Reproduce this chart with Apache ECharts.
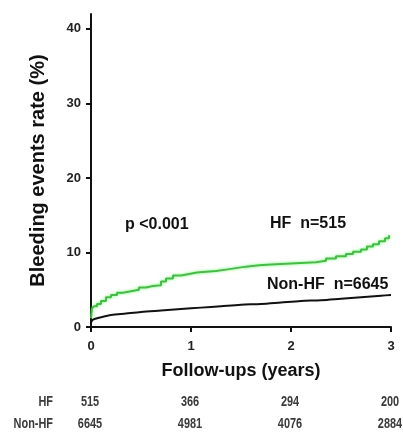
<!DOCTYPE html>
<html><head><meta charset="utf-8">
<script src="https://cdn.jsdelivr.net/npm/echarts@6/dist/echarts.min.js"></script>
<style>html,body{margin:0;padding:0;background:#fff}#c{width:403px;height:436px}</style>
</head><body><div id="c"></div>
<script>
var hfTime = [0, 0.01, 0.03, 0.06, 0.10, 0.15, 0.20, 0.26, 0.32, 0.40, 0.48, 0.55, 0.62, 0.70, 0.75, 0.82, 0.90, 0.98, 1.06, 1.15, 1.25, 1.35, 1.45, 1.55, 1.68, 1.80, 1.95, 2.10, 2.25, 2.35, 2.45, 2.55, 2.62, 2.70, 2.76, 2.82, 2.88, 2.94, 2.98];
var hfRate = [1.2, 2.5, 2.8, 3.1, 3.5, 4.0, 4.3, 4.6, 4.8, 5.0, 5.3, 5.5, 5.6, 6.1, 6.5, 6.9, 7.1, 7.3, 7.4, 7.5, 7.7, 7.9, 8.1, 8.3, 8.4, 8.5, 8.6, 8.7, 8.9, 9.2, 9.5, 9.8, 10.1, 10.4, 10.8, 11.1, 11.5, 11.9, 12.3];
var nonHfTime = [0, 0.02, 0.1, 0.2, 0.35, 0.5, 0.7, 0.9, 1.1, 1.3, 1.5, 1.7, 1.9, 2.1, 2.3, 2.5, 2.7, 2.9, 3.0];
var nonHfRate = [0.6, 1.0, 1.3, 1.6, 1.8, 2.0, 2.2, 2.4, 2.6, 2.8, 3.0, 3.1, 3.3, 3.5, 3.6, 3.8, 4.0, 4.2, 4.3];
var xTicks = [0, 1, 2, 3];
var yTicks = [0, 10, 20, 30, 40];
var riskRows = ['HF', 'Non-HF'];
var hfAtRisk = [515, 366, 294, 200];
var nonHfAtRisk = [6645, 4981, 4076, 2884];

function zip(a, b) { return a.map(function (t, i) { return [t, b[i]]; }); }
var FONT = 'Arial, "Liberation Sans", sans-serif';
var chart = echarts.init(document.getElementById('c'));

chart.setOption({
  animation: false,
  grid: { left: 91, right: 12, top: 14, bottom: 109, containLabel: false, outerBoundsMode: 'none' },
  xAxis: {
    type: 'value', min: 0, max: 3, interval: 1,
    name: 'Follow-ups (years)', nameLocation: 'middle', nameGap: 35,
    nameTextStyle: { fontSize: 18, fontWeight: 'bold', color: '#111', fontFamily: FONT },
    axisLine: { lineStyle: { color: '#111', width: 2 } },
    axisTick: { length: 5, lineStyle: { color: '#111', width: 2 } },
    axisLabel: { color: '#222', fontSize: 13, fontWeight: 'bold', fontFamily: FONT, margin: 13 },
    splitLine: { show: false }
  },
  yAxis: {
    type: 'value', min: 0, max: 42,
    name: 'Bleeding events rate (%)', nameLocation: 'middle', nameGap: 43, nameRotate: 90,
    nameTextStyle: { fontSize: 20, fontWeight: 'bold', color: '#111', fontFamily: FONT },
    axisLine: { show: true, lineStyle: { color: '#111', width: 2 } },
    axisTick: { show: true, length: 5, customValues: yTicks, lineStyle: { color: '#111', width: 2 } },
    axisLabel: { customValues: yTicks, color: '#222', fontSize: 13, fontWeight: 'bold', fontFamily: FONT, margin: 10 },
    splitLine: { show: false }
  },
  series: [{
    name: 'HF', type: 'line', step: 'end', showSymbol: false, data: zip(hfTime, hfRate),
    lineStyle: { color: '#2fcc2f', width: 2, shadowColor: 'rgba(60,220,60,0.5)', shadowBlur: 3 }
  }, {
    name: 'Non-HF', type: 'line', smooth: 0.3, showSymbol: false, data: zip(nonHfTime, nonHfRate),
    lineStyle: { color: '#111', width: 2 }
  }]
});

function txt(o) {
  return Object.assign({ fontFamily: FONT }, o);
}
var graphics = [
  { type: 'text', left: 125, top: 217, style: txt({ text: 'p <0.001', fontSize: 16, fontWeight: 'bold', fill: '#111' }) },
  { type: 'text', left: 270, top: 216, style: txt({ text: 'HF  n=515', fontSize: 16, fontWeight: 'bold', fill: '#111' }) },
  { type: 'text', left: 267, top: 277, style: txt({ text: 'Non-HF  n=6645', fontSize: 16, fontWeight: 'bold', fill: '#111' }) }
];
var rowY = [402, 424];
var rowVals = [hfAtRisk, nonHfAtRisk];
riskRows.forEach(function (name, r) {
  graphics.push({ type: 'text', x: 53, y: rowY[r], scaleX: 0.78,
    style: txt({ text: name, fontSize: 14, fontWeight: 'bold', fill: '#3a3a3a', align: 'right', verticalAlign: 'middle' }) });
  xTicks.forEach(function (t, i) {
    var px = chart.convertToPixel({ xAxisIndex: 0 }, t);
    graphics.push({ type: 'text', x: px - 1, y: rowY[r], scaleX: 0.78,
      style: txt({ text: String(rowVals[r][i]), fontSize: 14, fontWeight: 'bold', fill: '#3a3a3a', align: 'center', verticalAlign: 'middle' }) });
  });
});
chart.setOption({ graphic: graphics });
</script></body></html>
